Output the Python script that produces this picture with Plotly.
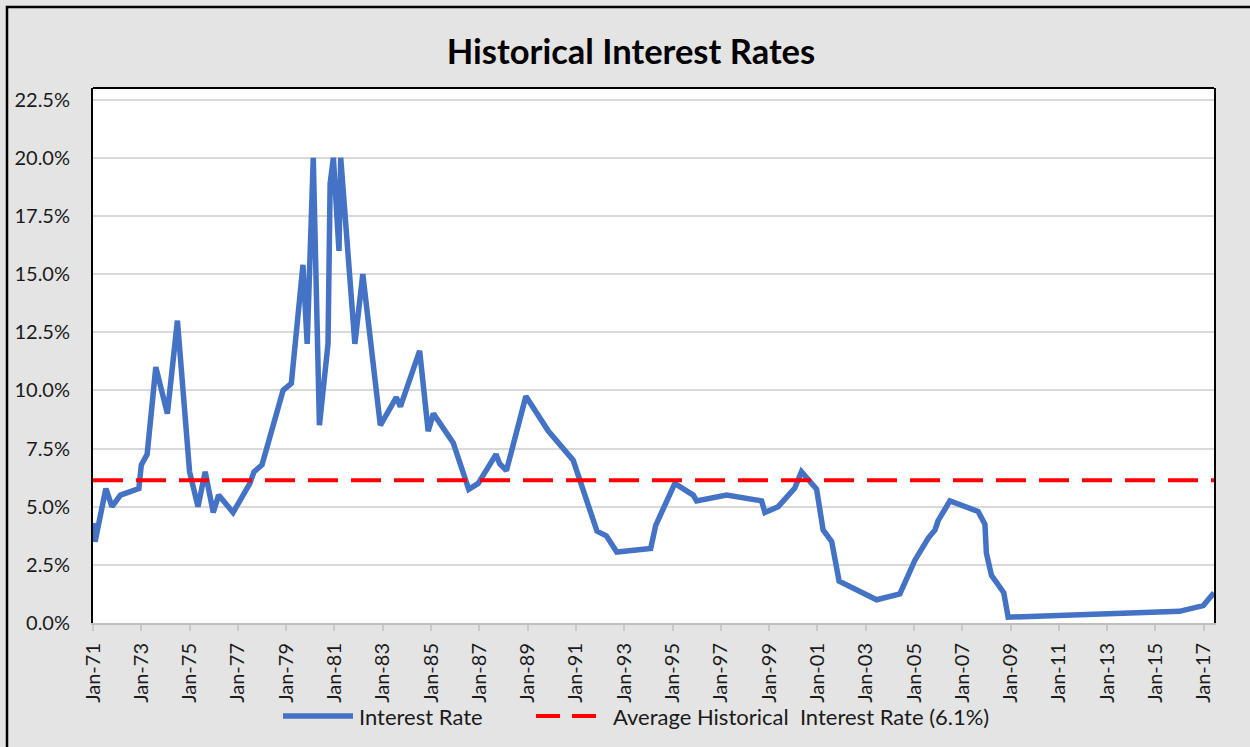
import plotly.graph_objects as go

# ---- data ----
dates = [
    "1971-01-01", "1971-02-01", "1971-07-15", "1971-10-15", "1972-02-20", "1972-11-25",
    "1973-01-01", "1973-03-30", "1973-08-08", "1974-01-30", "1974-07-01", "1975-01-01",
    "1975-05-08", "1975-08-25", "1975-12-25", "1976-03-15", "1976-10-20", "1977-07-01",
    "1977-09-01", "1978-01-01", "1978-11-15", "1979-03-20", "1979-09-12", "1979-11-15",
    "1980-02-15", "1980-05-18", "1980-09-25", "1980-10-27", "1980-12-15", "1981-03-10",
    "1981-04-05", "1981-11-05", "1982-03-05", "1982-11-25", "1983-07-25", "1983-09-25",
    "1984-07-12", "1984-11-18", "1985-02-05", "1985-12-01", "1986-07-25", "1986-12-15",
    "1987-09-10", "1987-11-05", "1988-02-15", "1988-12-05", "1989-11-10", "1990-11-20",
    "1991-11-15", "1992-04-05", "1992-09-10", "1994-02-05", "1994-04-22", "1994-07-20",
    "1994-10-28", "1995-02-05", "1995-11-10", "1996-01-01", "1997-03-28", "1998-09-10",
    "1998-10-30", "1999-05-18", "1999-08-05", "2000-01-25", "2000-05-05", "2000-12-20",
    "2001-03-28", "2001-08-05", "2001-11-25", "2003-06-15", "2004-06-01", "2004-08-28",
    "2005-01-15", "2005-08-05", "2005-11-15", "2006-01-01", "2006-06-28", "2007-08-28",
    "2007-12-10", "2008-01-01", "2008-03-18", "2008-09-20", "2008-11-25", "2015-12-31",
    "2016-12-25", "2017-06-05",
]
rates = [
    4.3, 3.5, 5.78, 5.0, 5.5, 5.78,
    6.8, 7.25, 11.0, 9.0, 13.0, 6.5,
    5.0, 6.5, 4.75, 5.5, 4.75, 6.0,
    6.5, 6.8, 10.0, 10.3, 15.4, 12.0,
    20.0, 8.5, 12.0, 18.9, 20.0, 16.0,
    20.0, 12.0, 15.0, 8.5, 9.7, 9.3,
    11.7, 8.25, 9.0, 7.75, 5.75, 6.0,
    7.25, 6.85, 6.55, 9.75, 8.25, 7.0,
    3.95, 3.75, 3.05, 3.2, 4.2, 4.75,
    5.5, 6.0, 5.5, 5.25, 5.5, 5.25,
    4.75, 5.0, 5.25, 5.8, 6.5, 5.75,
    4.0, 3.5, 1.8, 1.0, 1.25, 1.8,
    2.7, 3.65, 4.0, 4.4, 5.25, 4.8,
    4.25, 3.0, 2.05, 1.3, 0.25, 0.5,
    0.75, 1.3,
]
average_rate = 6.14
series_names = ["Interest Rate", "Average Historical  Interest Rate (6.1%)"]
title_text = "Historical Interest Rates"

# ---- layout geometry (pixels) ----
W, H = 1250, 747
L, R, T, B = 93, 1214, 88, 623
PW, PH = R - L, B - T

def px_x(x):
    return (x - L) / PW

def px_y(y):
    return (B - y) / PH

FONT = "Lato"
TXT = "#1a1a1a"
BLUE = "#4472C4"
RED = "#FF0000"

fig = go.Figure()
fig.add_trace(go.Scatter(
    x=dates, y=rates, mode="lines", name=series_names[0],
    line=dict(color=BLUE, width=5.5), showlegend=False,
))
fig.add_trace(go.Scatter(
    x=[dates[0], dates[-1]], y=[average_rate, average_rate], mode="lines",
    name=series_names[1], line=dict(color=RED, width=4, dash="30px,13px"),
    showlegend=False,
))

shapes = [
    # outer chart border (left & top visible)
    dict(type="rect", xref="paper", yref="paper",
         x0=px_x(7), x1=px_x(W + 20), y0=px_y(H + 20), y1=px_y(7),
         line=dict(color="black", width=2.5), fillcolor="rgba(0,0,0,0)", layer="below"),
    # top border of plot area
    dict(type="line", xref="paper", yref="paper", x0=0, x1=1, y0=1, y1=1,
         line=dict(color="black", width=2)),
    # legend samples
    dict(type="line", xref="paper", yref="paper", x0=px_x(283), x1=px_x(353),
         y0=px_y(716), y1=px_y(716), line=dict(color=BLUE, width=5.5)),
    dict(type="line", xref="paper", yref="paper", x0=px_x(536), x1=px_x(606),
         y0=px_y(716), y1=px_y(716), line=dict(color=RED, width=4, dash="24px,12px")),
]
annotations = [
    dict(text=series_names[0], xref="paper", yref="paper", x=px_x(357), y=px_y(716),
         xanchor="left", yanchor="middle", showarrow=False,
         font=dict(family=FONT, size=22, color=TXT)),
    dict(text=series_names[1].replace("  ", "&nbsp; "), xref="paper", yref="paper",
         x=px_x(611), y=px_y(716),
         xanchor="left", yanchor="middle", showarrow=False,
         font=dict(family=FONT, size=22, color=TXT)),
]

fig.update_layout(
    width=W, height=H,
    margin=dict(l=L, r=W - R, t=T, b=H - B, pad=0),
    paper_bgcolor="#e4e4e4", plot_bgcolor="white",
    title=dict(text=f"<b>{title_text}</b>", x=631 / W, xanchor="center",
               y=1 - 52 / H, yanchor="middle", yref="container",
               font=dict(family=FONT, size=34.5, color="black")),
    shapes=shapes, annotations=annotations,
    showlegend=False,
)
fig.update_xaxes(
    type="date", range=[dates[0], dates[-1]],
    tick0="1971-01-01", dtick="M24", tickformat="%b-%y", tickangle=-90,
    ticks="outside", ticklen=6, tickcolor="#c8c8c8", tickwidth=1.5,
    showgrid=False, showline=True, linecolor="#bfbfbf", linewidth=2,
    tickfont=dict(family=FONT, size=20, color=TXT), ticklabelstandoff=4,
    zeroline=False,
)
fig.update_yaxes(
    range=[0, 23.0], tick0=0, dtick=2.5, tickformat=".1f", ticksuffix="%",
    showgrid=True, gridcolor="#d9d9d9", gridwidth=1.5,
    showline=True, linecolor="black", linewidth=2, mirror=True,
    ticks="", tickfont=dict(family=FONT, size=20, color=TXT), ticklabelstandoff=17,
    zeroline=False,
)

fig.write_html("out.html")
